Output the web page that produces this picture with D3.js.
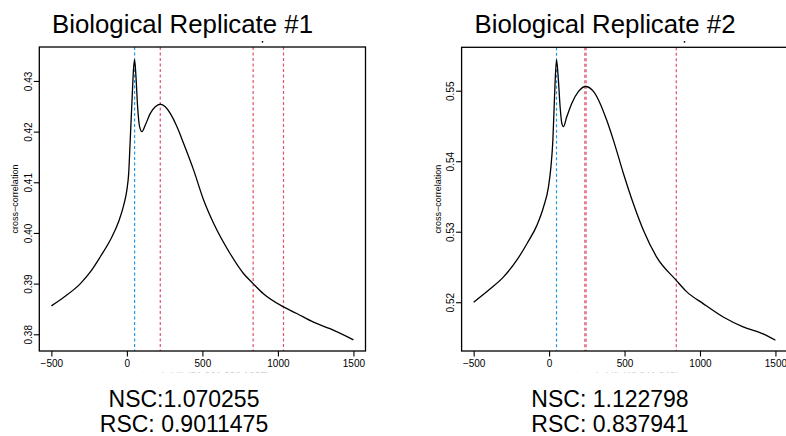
<!DOCTYPE html>
<html>
<head>
<meta charset="utf-8">
<script src="https://cdnjs.cloudflare.com/ajax/libs/d3/7.8.5/d3.min.js"></script>
<style>
    html, body { margin: 0; padding: 0; background: #fff; }
    svg { display: block; font-family: "Liberation Sans", Arial, Helvetica, sans-serif; }
</style>
</head>
<body>
<div id="chart"></div>
<script>
// strand shift vs cross-correlation
const shiftA = [-500, -418, -308, -242, -176, -110, -55, -21, 0, 12, 22, 34, 45, 51, 60, 71, 84, 100, 122, 155, 188, 221, 254, 287, 331, 375, 442, 508, 574, 684, 772, 836, 904, 1037, 1125, 1235, 1345, 1500];
const corrA = [0.3856, 0.3873, 0.3900, 0.3923, 0.3953, 0.3986, 0.4022, 0.4055, 0.4085, 0.4118, 0.4183, 0.4262, 0.4328, 0.4342, 0.4309, 0.4249, 0.4210, 0.4200, 0.4213, 0.4236, 0.4249, 0.4254, 0.4249, 0.4236, 0.4210, 0.4177, 0.4124, 0.4065, 0.4019, 0.3959, 0.3920, 0.3900, 0.3880, 0.3854, 0.3841, 0.3824, 0.3811, 0.3789];
const shiftB = [-500, -390, -302, -213, -147, -81, -37, -4, 12, 25, 36, 49, 60, 73, 84, 95, 117, 150, 195, 241, 294, 338, 382, 426, 492, 558, 625, 713, 843, 911, 1021, 1154, 1286, 1418, 1500];
const corrB = [0.5200, 0.5219, 0.5236, 0.5260, 0.5283, 0.5309, 0.5335, 0.5364, 0.5392, 0.5430, 0.5492, 0.5544, 0.5520, 0.5477, 0.5454, 0.5449, 0.5463, 0.5482, 0.5499, 0.5506, 0.5499, 0.5482, 0.5458, 0.5430, 0.5383, 0.5340, 0.5302, 0.5264, 0.5231, 0.5215, 0.5198, 0.5179, 0.5165, 0.5155, 0.5146];

const xTicks = [-500, 0, 500, 1000, 1500];
const yTicksA = [0.38, 0.39, 0.40, 0.41, 0.42, 0.43];
const yTicksB = [0.52, 0.53, 0.54, 0.55];

// vertical markers: blue = read length peak, red = fragment / other peaks
const blueA = [51], redA = [221, 836, 1037];
const blueB = [49], redB = [237, 245, 843];

const titles = ["Biological Replicate #1", "Biological Replicate #2"];
const nscLabels = ["NSC:1.070255", "NSC: 1.122798"];
const rscLabels = ["RSC: 0.9011475", "RSC: 0.837941"];
const xLabels = ["strand shift (51,221,836,1037)", "strand shift (49,241,843)"];

const xDomain = [-580, 1580];
const yDomainA = [0.3767, 0.4367];
const yDomainB = [0.51308, 0.55616];

const W = 786, H = 436;
const BLUE = "#2297E6", RED = "#DF536B";

const svg = d3.select("#chart").append("svg").attr("width", W).attr("height", H);

const panels = [
    {box: {l: 39.3, r: 365.5, t: 47, b: 351}, xs: shiftA, ys: corrA, yDomain: yDomainA, yTicks: yTicksA, blue: blueA, red: redA, titleX: 182.5, textX: 184, dotX: 262.5},
    {box: {l: 461.6, r: 787.5, t: 47.3, b: 351}, xs: shiftB, ys: corrB, yDomain: yDomainB, yTicks: yTicksB, blue: blueB, red: redB, titleX: 605, textX: 610, dotX: 684.5}
];

const drawPanel = (p, i) => {
    const {l, r, t, b} = p.box;
    const x = d3.scaleLinear().domain(xDomain).range([l, r]);
    const y = d3.scaleLinear().domain(p.yDomain).range([b, t]);
    const g = svg.append("g");

    // clipped x label remnant under the tick labels
    const clipId = "xlabclip" + i;
    svg.append("clipPath").attr("id", clipId).append("rect")
        .attr("x", l).attr("y", 369).attr("width", r - l).attr("height", 3.5);
    g.append("text").attr("clip-path", `url(#${clipId})`)
        .attr("x", (l + r) / 2).attr("y", 379.5).attr("text-anchor", "middle")
        .attr("font-size", 10).attr("fill", "#999").text(xLabels[i]);

    // markers
    p.blue.forEach(v => g.append("line").attr("x1", x(v)).attr("x2", x(v)).attr("y1", t).attr("y2", b)
        .attr("stroke", BLUE).attr("stroke-width", 1.2).attr("stroke-dasharray", "3,2.5"));
    p.red.forEach(v => g.append("line").attr("x1", x(v)).attr("x2", x(v)).attr("y1", t).attr("y2", b)
        .attr("stroke", RED).attr("stroke-width", 1.2).attr("stroke-dasharray", "3,2.5"));

    // curve
    const line = d3.line().x((d, k) => x(p.xs[k])).y(d => y(d)).curve(d3.curveMonotoneX);
    g.append("path").attr("d", line(p.ys)).attr("fill", "none")
        .attr("stroke", "#000").attr("stroke-width", 1.3);

    // box
    g.append("rect").attr("x", l).attr("y", t).attr("width", r - l).attr("height", b - t)
        .attr("fill", "none").attr("stroke", "#000").attr("stroke-width", 1.3);

    // x axis
    const xa = g.append("g").attr("transform", `translate(0,${b})`)
        .call(d3.axisBottom(x).tickValues(xTicks).tickSize(5.5).tickFormat(d => d < 0 ? "\u2212" + Math.abs(d) : d));
    xa.select(".domain").remove();
    xa.selectAll("line").attr("stroke-width", 1.1);
    xa.selectAll("text").attr("font-size", 10).attr("font-family", null).attr("dy", null).attr("y", 16);

    // y axis
    const ya = g.append("g").attr("transform", `translate(${l},0)`)
        .call(d3.axisLeft(y).tickValues(p.yTicks).tickSize(5.5).tickFormat(d3.format(".2f")));
    ya.select(".domain").remove();
    ya.selectAll("line").attr("stroke-width", 1.1);
    ya.selectAll("text").attr("font-size", 10).attr("font-family", null)
        .attr("x", null).attr("dy", null).attr("text-anchor", "middle")
        .attr("transform", "translate(-7.5,0) rotate(-90)");

    g.append("text").attr("transform", `translate(${l - 21},${(t + b) / 2}) rotate(-90)`)
        .attr("text-anchor", "middle").attr("font-size", 9).text("cross\u2212correlation");

    // title and the stray dot above the box
    g.append("text").attr("x", p.titleX).attr("y", 33.3).attr("text-anchor", "middle")
        .attr("font-size", 25.8).text(titles[i]);
    g.append("circle").attr("cx", p.dotX).attr("cy", 41.8).attr("r", 0.9).attr("fill", "#000");

    // NSC / RSC
    g.append("text").attr("x", p.textX).attr("y", 407).attr("text-anchor", "middle")
        .attr("font-size", 23).text(nscLabels[i]);
    g.append("text").attr("x", p.textX).attr("y", 432).attr("text-anchor", "middle")
        .attr("font-size", 23).text(rscLabels[i]);
};

panels.forEach(drawPanel);
</script>
</body>
</html>
